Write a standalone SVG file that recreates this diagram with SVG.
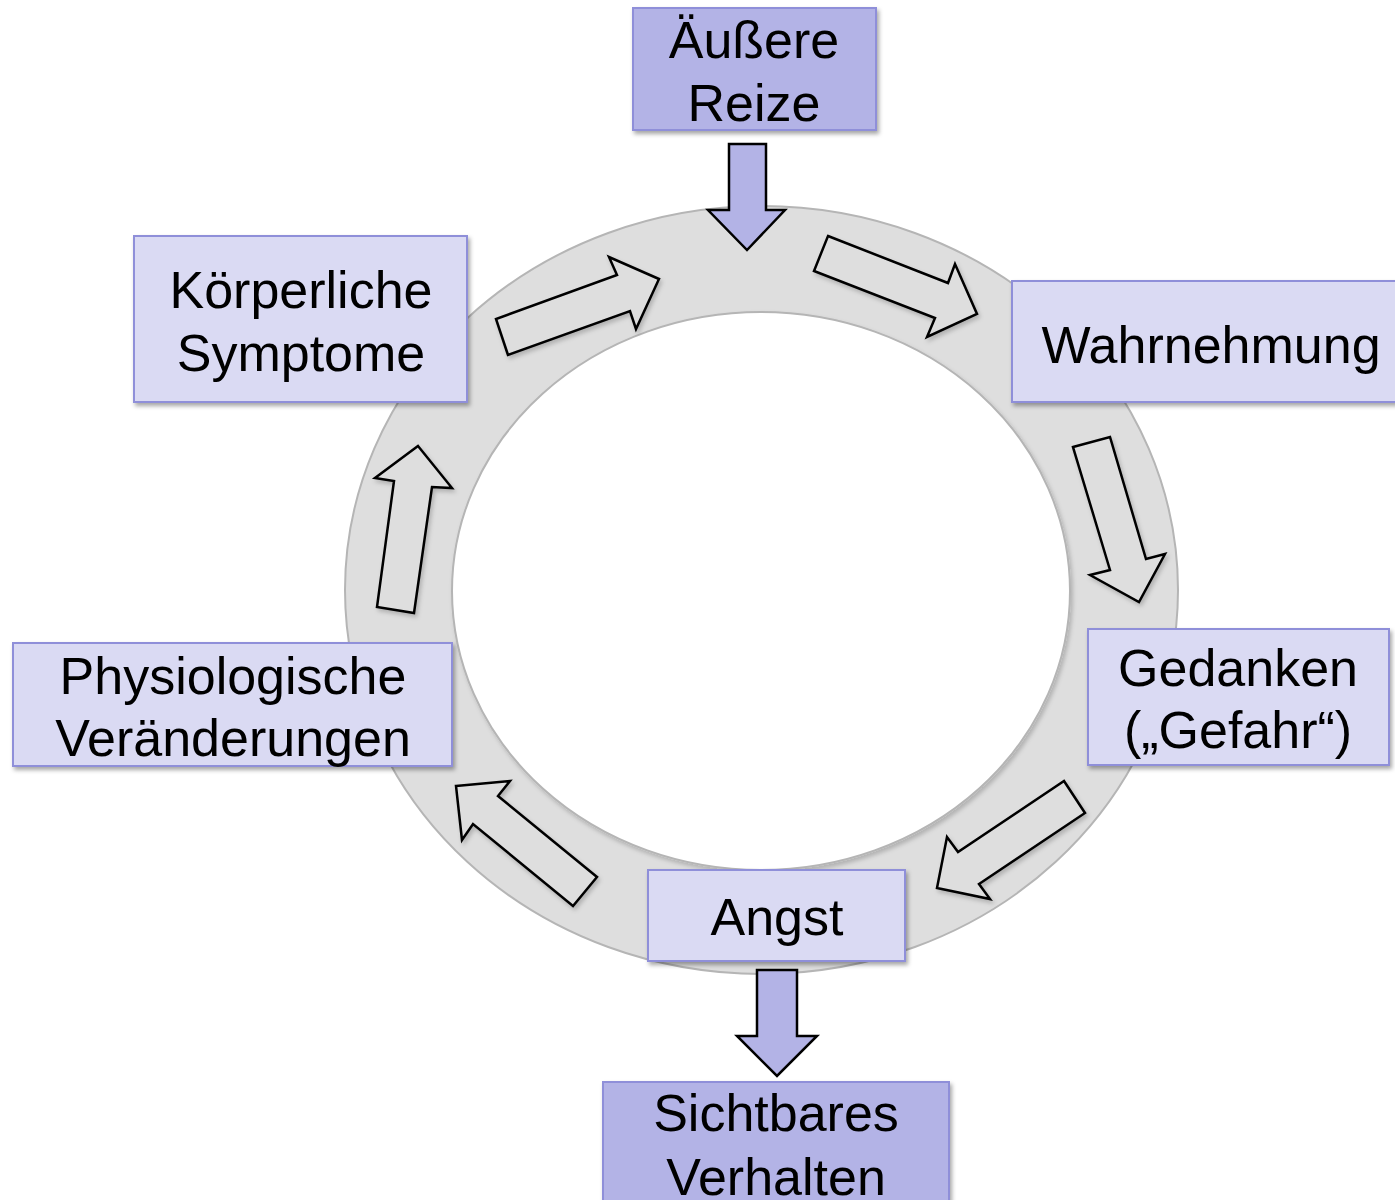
<svg xmlns="http://www.w3.org/2000/svg" width="1395" height="1200" viewBox="0 0 1395 1200">
<style>
text{font-family:"Liberation Sans",Arial,Helvetica,sans-serif;font-size:52px;fill:#000;text-anchor:middle}
.dark{fill:#b3b3e6;stroke:#8f8fd9;stroke-width:2}
.light{fill:#dadaf3;stroke:#8f8fd9;stroke-width:2}
.hollow{fill:#dedede;stroke:#000;stroke-width:2.5;stroke-linejoin:miter}
.solid{fill:#b3b3e6;stroke:#000;stroke-width:2.5;stroke-linejoin:miter}
</style>
<defs>
<filter id="sh" x="-10%" y="-10%" width="130%" height="130%">
<feDropShadow dx="2" dy="3" stdDeviation="2" flood-color="#000" flood-opacity="0.35"/>
</filter>
<filter id="ash" x="-10%" y="-10%" width="130%" height="130%">
<feDropShadow dx="2" dy="3" stdDeviation="2" flood-color="#000" flood-opacity="0.2"/>
</filter>
</defs>
<rect width="1395" height="1200" fill="#fff"/>
<g id="ring">
<ellipse cx="761.5" cy="590" rx="416.5" ry="384" fill="#dedede" stroke="#b5b5b5" stroke-width="2"/>
<ellipse cx="761" cy="591" rx="309" ry="279" fill="#fff" stroke="#b5b5b5" stroke-width="2" filter="url(#ash)"/>
</g>
<g id="connectors">
<polygon class="hollow" filter="url(#ash)" points="508,355 496,319 617,275 609,257 659,279 636,329 630,311"/>
<polygon class="hollow" filter="url(#ash)" points="828,236 948,283 955,264 977,314 927,337 935,318 814,271"/>
<polygon class="hollow" filter="url(#ash)" points="1073,447 1110,437 1146,559 1165,554 1139,602 1090,575 1110,570"/>
<polygon class="hollow" filter="url(#ash)" points="1064,781 1085,813 979,884 990,899 937,888 947,837 958,852"/>
<polygon class="hollow" filter="url(#ash)" points="456,786 510,781 498,796 597,877 573,906 473,824 462,840"/>
<polygon class="hollow" filter="url(#ash)" points="418,446 452,488 432,487 414,613 377,607 394,481 375,478"/>
<polygon class="solid" points="729,144 766,144 766,210 785,210 747,250 708,210 729,210"/>
<polygon class="solid" points="757,970 797,970 797,1036 817,1036 777,1076 737,1036 757,1036"/>
</g>
<g id="aeussere-reize">
<rect class="dark" filter="url(#sh)" x="633" y="8" width="243" height="122"/>
<text x="754" y="58">Äußere</text>
<text x="754" y="121">Reize</text>
</g>
<g id="koerperliche-symptome">
<rect class="light" filter="url(#sh)" x="134" y="236" width="333" height="166"/>
<text x="301" y="308">Körperliche</text>
<text x="301" y="371">Symptome</text>
</g>
<g id="wahrnehmung">
<rect class="light" filter="url(#sh)" x="1012" y="281" width="395" height="121"/>
<text x="1211" y="363">Wahrnehmung</text>
</g>
<g id="gedanken">
<rect class="light" filter="url(#sh)" x="1088" y="629" width="301" height="136"/>
<text x="1238" y="686">Gedanken</text>
<text x="1238" y="748">(„Gefahr“)</text>
</g>
<g id="physiologische-veraenderungen">
<rect class="light" filter="url(#sh)" x="13" y="643" width="439" height="123"/>
<text x="233" y="694">Physiologische</text>
<text x="233" y="756">Veränderungen</text>
</g>
<g id="angst">
<rect class="light" filter="url(#sh)" x="648" y="870" width="257" height="91"/>
<text x="777" y="935">Angst</text>
</g>
<g id="sichtbares-verhalten">
<rect class="dark" filter="url(#sh)" x="603" y="1082" width="346" height="130"/>
<text x="776" y="1131">Sichtbares</text>
<text x="776" y="1195">Verhalten</text>
</g>
</svg>
